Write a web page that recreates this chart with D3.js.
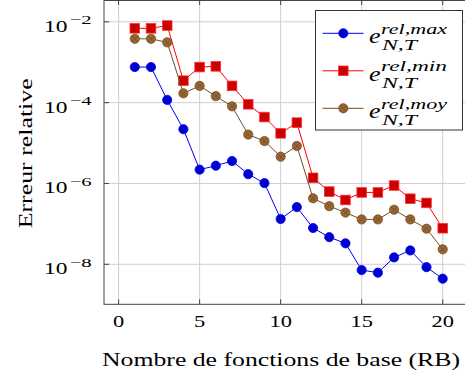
<!DOCTYPE html>
<html><head><meta charset="utf-8">
<script src="https://cdn.jsdelivr.net/npm/d3@7"></script>
<style>html,body{margin:0;padding:0;background:#fff;overflow:hidden}</style>
</head><body>
<script>
// ---- data ----
const nBase = [1,2,3,4,5,6,7,8,9,10,11,12,13,14,15,16,17,18,19,20];
const errMax = [7.6e-4,7.6e-4,1.17e-4,2.2e-5,2.2e-6,2.75e-6,3.6e-6,1.7e-6,1.02e-6,1.32e-7,2.6e-7,7.9e-8,4.7e-8,3.3e-8,7.2e-9,6.2e-9,1.48e-8,2.2e-8,8.5e-9,4.4e-9];
const errMin = [6.9e-3,6.9e-3,8.1e-3,3.5e-4,7.6e-4,7.9e-4,2.6e-4,9.1e-5,4.4e-5,1.74e-5,3.2e-5,1.38e-6,6.3e-7,3.9e-7,6.0e-7,6.0e-7,8.9e-7,4.2e-7,3.3e-7,7.8e-8];
const errMoy = [3.8e-3,3.8e-3,3.1e-3,1.7e-4,2.6e-4,1.45e-4,8.1e-5,1.62e-5,1.12e-5,4.6e-6,8.5e-6,4.3e-7,2.75e-7,1.9e-7,1.29e-7,1.29e-7,2.24e-7,1.29e-7,7.6e-8,2.34e-8];
const xTicks = [0,5,10,15,20];
const yTickExps = [-2,-4,-6,-8];
const seriesSup = ["rel,max","rel,min","rel,moy"];
const xLabel = "Nombre de fonctions de base (RB)";
const yLabel = "Erreur relative";

const W = 465, H = 380;
const FONT = "'Liberation Serif','DejaVu Serif',serif";
const svg = d3.select("body").append("svg").attr("width", W).attr("height", H);

const x = d3.scaleLinear().domain([-0.9, 21.9]).range([104, 473.5]);
const y = d3.scaleLog().domain([Math.pow(10,-8.99), Math.pow(10,-1.46)]).range([304.3, 0]);
const yTicks = yTickExps.map(e => Math.pow(10, e));

function fit(sel, len){ sel.attr("textLength", len).attr("lengthAdjust","spacingAndGlyphs"); return sel; }

// grid
const grid = svg.append("g");
grid.selectAll("line.gx").data(xTicks).enter().append("line")
  .attr("x1", d=>x(d)).attr("x2", d=>x(d)).attr("y1", 0).attr("y2", 304.3)
  .attr("stroke", "#cfcfcf").attr("stroke-width", 1);
grid.selectAll("line.gy").data(yTicks).enter().append("line")
  .attr("x1", 104).attr("x2", 473.5).attr("y1", d=>y(d)).attr("y2", d=>y(d))
  .attr("stroke", "#cfcfcf").attr("stroke-width", 1);

// frame & ticks
const axG = svg.append("g");
axG.append("rect").attr("x", 104).attr("y", 0.5).attr("width", 473.5-104).attr("height", 304.3-0.5)
  .attr("fill", "none").attr("stroke", "#444").attr("stroke-width", 1);
const tl = 5;
xTicks.forEach(t => {
  axG.append("line").attr("x1", x(t)).attr("x2", x(t)).attr("y1", 304.3).attr("y2", 304.3-tl).attr("stroke","#444");
  axG.append("line").attr("x1", x(t)).attr("x2", x(t)).attr("y1", 0).attr("y2", tl).attr("stroke","#444");
});
yTicks.forEach(t => {
  axG.append("line").attr("x1", 104).attr("x2", 104+tl).attr("y1", y(t)).attr("y2", y(t)).attr("stroke","#444");
  axG.append("line").attr("x1", 473.5).attr("x2", 473.5-tl).attr("y1", y(t)).attr("y2", y(t)).attr("stroke","#444");
});

// tick labels
xTicks.forEach(t => {
  const s = String(t);
  fit(svg.append("text").attr("x", x(t)).attr("y", 327.3).attr("text-anchor","middle")
    .attr("font-family", FONT).attr("font-size", 17.5).attr("fill","#000").text(s), 11.2*s.length);
});
yTickExps.forEach(e => {
  const yy = y(Math.pow(10,e));
  fit(svg.append("text").attr("x", 44).attr("y", yy+10).attr("font-family", FONT).attr("font-size", 17.5)
    .attr("fill","#000").text("10"), 23.5);
  fit(svg.append("text").attr("x", 69.5).attr("y", yy+2.6).attr("font-family", FONT).attr("font-size", 12.5)
    .attr("fill","#000").text("\u2212" + Math.abs(e)), 22);
});

// axis labels
fit(svg.append("text").attr("x", 281).attr("y", 365.7).attr("text-anchor","middle")
  .attr("font-family", FONT).attr("font-size", 18.5).attr("fill","#000").text(xLabel), 358);
fit(svg.append("text").attr("transform","translate(32.3,153.3) rotate(-90)").attr("text-anchor","middle")
  .attr("font-family", FONT).attr("font-size", 19).attr("fill","#000").text(yLabel), 150);

// series
const series = [
  {vals: errMax, line:"#0000ff", fill:"#0000cc", stroke:"#0000ff", mark:"circle"},
  {vals: errMin, line:"#ff0000", fill:"#cc0000", stroke:"#ff3030", mark:"square"},
  {vals: errMoy, line:"#734d26", fill:"#996633", stroke:"#734d26", mark:"otimes"}
];
const R = 4.6;
function drawMark(g, cx, cy, s){
  if (s.mark === "circle") {
    g.append("circle").attr("cx",cx).attr("cy",cy).attr("r",R).attr("fill",s.fill).attr("stroke",s.stroke).attr("stroke-width",0.8);
  } else if (s.mark === "square") {
    g.append("rect").attr("x",cx-4.8).attr("y",cy-4.8).attr("width",9.6).attr("height",9.6).attr("fill",s.fill).attr("stroke",s.stroke).attr("stroke-width",0.8);
  } else {
    g.append("circle").attr("cx",cx).attr("cy",cy).attr("r",R).attr("fill",s.fill).attr("stroke",s.stroke).attr("stroke-width",0.8);
    const k = R*0.707;
    g.append("line").attr("x1",cx-k).attr("y1",cy-k).attr("x2",cx+k).attr("y2",cy+k).attr("stroke",s.stroke).attr("stroke-width",0.8);
    g.append("line").attr("x1",cx-k).attr("y1",cy+k).attr("x2",cx+k).attr("y2",cy-k).attr("stroke",s.stroke).attr("stroke-width",0.8);
  }
}
const lineGen = d3.line().x(d=>x(d[0])).y(d=>y(d[1]));
series.forEach(s => {
  const pts = nBase.map((n,i)=>[n, s.vals[i]]);
  const g = svg.append("g");
  g.append("path").attr("d", lineGen(pts)).attr("fill","none").attr("stroke", s.line).attr("stroke-width", 1);
  pts.forEach(p => drawMark(g, x(p[0]), y(p[1]), s));
});

// legend
const lg = svg.append("g");
lg.append("rect").attr("x", 315.5).attr("y", 10.5).attr("width", 147).attr("height", 119.5)
  .attr("fill","#fff").attr("stroke","#333").attr("stroke-width", 1);
series.forEach((s, i) => {
  const cy = 33.3 + i*37.5;
  lg.append("line").attr("x1", 322.5).attr("x2", 363.5).attr("y1", cy).attr("y2", cy).attr("stroke", s.line).attr("stroke-width", 1);
  drawMark(lg, 343.3, cy, s);
  fit(lg.append("text").attr("x", 369).attr("y", cy+10).attr("font-family", FONT).attr("font-style","italic")
    .attr("font-size", 22).attr("fill","#000").text("e"), 11.5);
  fit(lg.append("text").attr("x", 381).attr("y", cy+0.5).attr("font-family", FONT).attr("font-style","italic")
    .attr("font-size", 15).attr("fill","#000").text(seriesSup[i]), 66);
  fit(lg.append("text").attr("x", 382).attr("y", cy+16.7).attr("font-family", FONT).attr("font-style","italic")
    .attr("font-size", 15).attr("fill","#000").text("N,T"), 35);
});
</script>
</body></html>
